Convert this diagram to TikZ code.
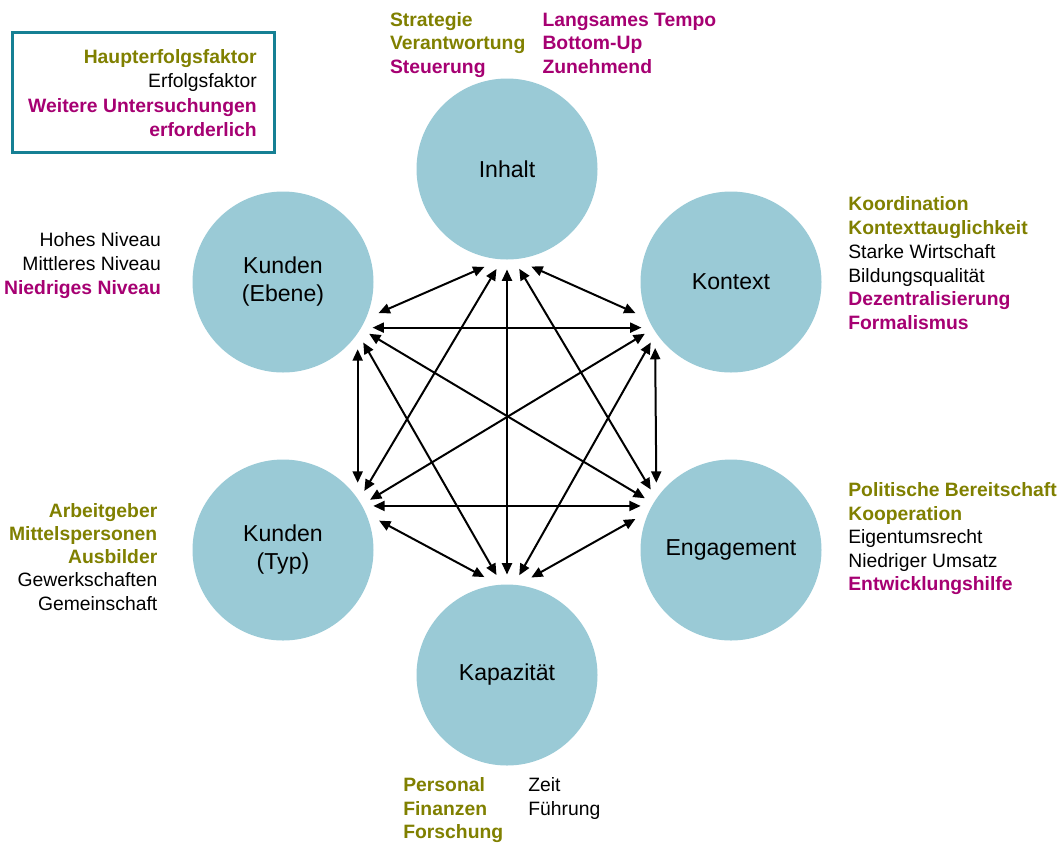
\documentclass[tikz,border=0pt]{standalone}
\usepackage{fontspec}
\setmainfont{Liberation Sans}
\usetikzlibrary{arrows.meta}

\definecolor{hubblue}{RGB}{154,202,214}
\definecolor{olivekey}{RGB}{128,128,0}
\definecolor{magres}{RGB}{166,0,114}
\definecolor{frameteal}{RGB}{22,128,148}

\tikzset{
  hub/.style={circle, fill=hubblue, minimum size=135.75pt, inner sep=0pt,
    outer sep=7.5pt, align=center, font=\fontsize{17.3}{21}\selectfont},
  link/.style={line width=1.5pt,
    {Triangle[length=8.5pt,width=7.5pt]}-{Triangle[length=8.5pt,width=7.5pt]}},
  entry/.style={inner sep=0pt, outer sep=0pt, font=\fontsize{14.5}{17}\selectfont},
  key/.style={entry, text=olivekey, font=\fontsize{14.5}{17}\selectfont\bfseries},
  factor/.style={entry, text=black},
  research/.style={entry, text=magres, font=\fontsize{14.5}{17}\selectfont\bfseries},
  legendbox/.style={draw=frameteal, line width=2.25pt, fill=white,
    minimum width=196.5pt, minimum height=90pt, inner sep=0pt}
}

\begin{document}
\begin{tikzpicture}[x=0.75pt, y=-0.75pt]
  \useasboundingbox (0,0) rectangle (1060,844);

  % legend
  \node[legendbox] (legend) at (143,92) {};
  \foreach \s/\t [count=\k] in {key/Haupterfolgsfaktor, factor/Erfolgsfaktor,
      research/Weitere Untersuchungen, research/erforderlich}
    \node[\s, anchor=base east] (leg-\k) at (256.7, {63.3+(\k-1)*24.4}) {\t};

  % the six factors
  \node[hub] (inh) at (507,169) {Inhalt};
  \node[hub] (kon) at (731,282) {Kontext};
  \node[hub] (eng) at (731,550) {Engagement};
  \node[hub] (kap) at (507,675) {Kapazität};
  \node[hub] (typ) at (283,550) {Kunden\\(Typ)};
  \node[hub] (ebe) at (283,282) {Kunden\\(Ebene)};

  % every pair is linked in both directions
  \draw[link] (inh.-76.1) -- (kon.198.8);
  \draw[link] (inh.-83.3) -- (eng.143.0);
  \draw[link] (inh.-90)   -- (kap.90);
  \draw[link] (inh.-96.7) -- (typ.36.9);
  \draw[link] (inh.-103.9) -- (ebe.-18.7);
  \draw[link] (kon.221.4) -- (eng.138.6);
  \draw[link] (kon.217.9) -- (kap.83.4);
  \draw[link] (kon.211.5) -- (typ.30.6);
  \draw[link] (kon.207)   -- (ebe.-27);
  \draw[link] (eng.162.5) -- (kap.76.6);
  \draw[link] (eng.154)   -- (typ.26);
  \draw[link] (eng.149.3) -- (ebe.-31.4);
  \draw[link] (kap.103.4) -- (typ.17.4);
  \draw[link] (kap.96.5)  -- (ebe.-37.9);
  \draw[link] (typ.42)    -- (ebe.-42);

  % Inhalt
  \foreach \s/\t [count=\k] in {key/Strategie, key/Verantwortung, research/Steuerung}
    \node[\s, anchor=base west] (inh-a\k) at (390, {26.3+(\k-1)*23.6}) {\t};
  \foreach \s/\t [count=\k] in {research/Langsames Tempo, research/Bottom-Up, research/Zunehmend}
    \node[\s, anchor=base west] (inh-b\k) at (542.5, {26.3+(\k-1)*23.6}) {\t};

  % Kontext
  \foreach \s/\t [count=\k] in {key/Koordination, key/Kontexttauglichkeit,
      factor/Starke Wirtschaft, factor/Bildungsqualität,
      research/Dezentralisierung, research/Formalismus}
    \node[\s, anchor=base west] (kon-\k) at (848.3, {210.7+(\k-1)*23.8}) {\t};

  % Engagement
  \foreach \s/\t [count=\k] in {key/Politische Bereitschaft, key/Kooperation,
      factor/Eigentumsrecht, factor/Niedriger Umsatz, research/Entwicklungshilfe}
    \node[\s, anchor=base west] (eng-\k) at (848.3, {496.5+(\k-1)*23.6}) {\t};

  % Kapazität
  \foreach \s/\t [count=\k] in {key/Personal, key/Finanzen, key/Forschung}
    \node[\s, anchor=base west] (kap-a\k) at (403.3, {791.7+(\k-1)*23.3}) {\t};
  \foreach \s/\t [count=\k] in {factor/Zeit, factor/Führung}
    \node[\s, anchor=base west] (kap-b\k) at (528.3, {791.7+(\k-1)*23.3}) {\t};

  % Kunden (Ebene)
  \foreach \s/\t [count=\k] in {factor/Hohes Niveau, factor/Mittleres Niveau,
      research/Niedriges Niveau}
    \node[\s, anchor=base east] (ebe-\k) at (161, {246.7+(\k-1)*23.7}) {\t};

  % Kunden (Typ)
  \foreach \s/\t [count=\k] in {key/Arbeitgeber, key/Mittelspersonen, key/Ausbilder,
      factor/Gewerkschaften, factor/Gemeinschaft}
    \node[\s, anchor=base east] (typ-\k) at (157.3, {517.3+(\k-1)*23.2}) {\t};
\end{tikzpicture}
\end{document}
